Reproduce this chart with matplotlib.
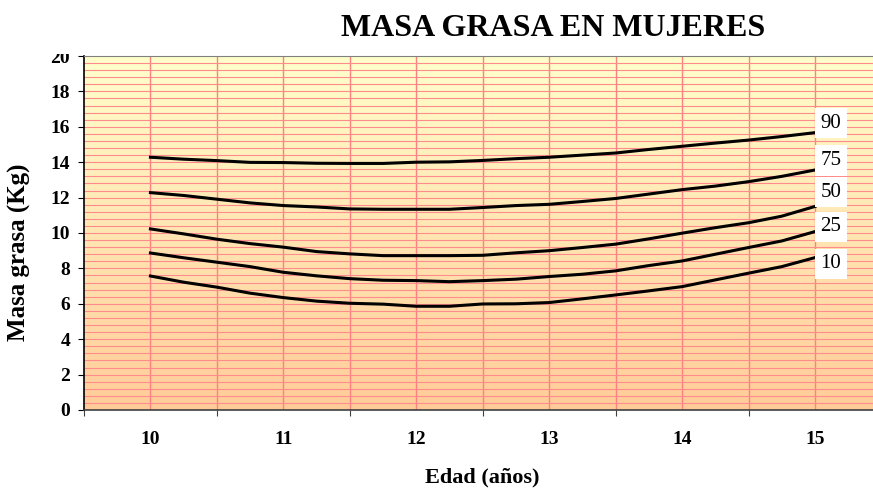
"""
Masa grasa en mujeres de 10 a 15 años: curvas de percentiles.
"""

import matplotlib
matplotlib.use("Agg")
import matplotlib.pyplot as plt
import numpy as np
from matplotlib.colors import LinearSegmentedColormap
from matplotlib.patches import Rectangle
from matplotlib.ticker import MultipleLocator

# Edad (años) y masa grasa (kg) por percentil
edad = [10.0, 10.25, 10.5, 10.75, 11.0, 11.25, 11.5, 11.75, 12.0, 12.25, 12.5,
        12.75, 13.0, 13.25, 13.5, 13.75, 14.0, 14.25, 14.5, 14.75, 15.0]

p90 = [14.28, 14.17, 14.09, 13.99, 13.98, 13.94, 13.93, 13.93, 14.00, 14.02, 14.10,
       14.20, 14.28, 14.40, 14.52, 14.72, 14.90, 15.08, 15.25, 15.45, 15.67]
p75 = [12.28, 12.12, 11.91, 11.70, 11.55, 11.47, 11.36, 11.34, 11.34, 11.34, 11.44,
       11.55, 11.62, 11.78, 11.95, 12.20, 12.45, 12.65, 12.90, 13.20, 13.56]
p50 = [10.23, 9.95, 9.65, 9.40, 9.20, 8.95, 8.82, 8.72, 8.72, 8.72, 8.74,
       8.88, 9.00, 9.18, 9.37, 9.67, 9.99, 10.30, 10.58, 10.95, 11.50]
p25 = [8.87, 8.60, 8.35, 8.10, 7.78, 7.58, 7.42, 7.33, 7.31, 7.25, 7.31,
       7.39, 7.54, 7.67, 7.86, 8.16, 8.42, 8.80, 9.18, 9.55, 10.08]
p10 = [7.57, 7.22, 6.94, 6.60, 6.35, 6.15, 6.03, 5.98, 5.86, 5.86, 5.99,
       6.00, 6.07, 6.28, 6.50, 6.73, 6.97, 7.35, 7.73, 8.10, 8.61]

percentiles = ["90", "75", "50", "25", "10"]
series = [p90, p75, p50, p25, p10]
# altura de cada rótulo de percentil (kg)
label_y = [16.2, 14.1, 12.3, 10.35, 8.25]

x_labels = ["10", "11", "12", "13", "14", "15"]

SERIF = "Liberation Serif"


def main():
    fig = plt.figure(figsize=(8.73, 4.90), dpi=100)
    ax = fig.add_axes([0.0962, 0.1633, 0.9135, 0.7224])

    # fondo degradado amarillo claro -> canela
    cmap = LinearSegmentedColormap.from_list("fondo", ["#FFCC99", "#FFFFCC"])
    grad = np.linspace(0, 1, 256).reshape(-1, 1)
    ax.imshow(grad, cmap=cmap, aspect="auto", origin="lower",
              extent=[9.5, 15.5, 0, 20], zorder=0)

    for vals in series:
        ax.plot(edad, vals, color="black", linewidth=2.2, zorder=3,
                solid_joinstyle="round")

    for name, yv in zip(percentiles, label_y):
        ax.text(15.04, yv, name, fontsize=15, family=SERIF, va="center",
                ha="left", zorder=4,
                bbox=dict(facecolor="white", edgecolor="none", pad=4))

    ax.set_xlim(9.5, 15.5)
    ax.set_ylim(0, 20)

    # marcas entre categorías, rótulos en el centro
    ax.set_xticks(np.arange(9.5, 16.0, 1.0))
    ax.set_xticklabels([])
    ax.set_xticks([10, 11, 12, 13, 14, 15], minor=True)
    ax.set_xticklabels(x_labels, minor=True, fontsize=14,
                       fontweight="bold", family=SERIF)
    ax.tick_params(axis="x", which="major", length=4, direction="out",
                   color="#404040")
    ax.tick_params(axis="x", which="minor", length=0, pad=15)

    ax.set_yticks(np.arange(0, 21, 2))
    ax.set_yticklabels([str(v) for v in range(0, 21, 2)], fontsize=14,
                       fontweight="bold", family=SERIF)
    ax.yaxis.set_minor_locator(MultipleLocator(0.4))
    ax.tick_params(axis="y", which="major", length=4, direction="out", pad=6)
    ax.tick_params(axis="y", which="minor", length=0)

    # cuadrícula
    for xv in np.arange(10.0, 15.6, 0.5):
        ax.axvline(xv, color="#FF8080", linewidth=1.0, zorder=1)
    for yv in np.arange(0.4, 20.0, 0.4):
        ax.axhline(yv, color="#FF8C8C", linewidth=0.8, zorder=1)

    ax.spines["left"].set_color("black")
    ax.spines["bottom"].set_color("#404040")
    ax.spines["top"].set_color("#808080")
    ax.spines["right"].set_visible(False)
    for s in ("left", "bottom"):
        ax.spines[s].set_linewidth(1.2)

    ax.set_xlabel("Edad (años)", fontsize=16, fontweight="bold",
                  family=SERIF, labelpad=14)
    ax.set_ylabel("Masa grasa (Kg)", fontsize=18, fontweight="bold",
                  family=SERIF)
    ax.yaxis.set_label_coords(-0.066, 0.446)

    fig.text(0.634, 0.942, "MASA GRASA EN MUJERES", fontsize=23,
             fontweight="bold", family=SERIF, ha="center", va="center")

    # el margen superior recorta el rótulo "20"
    fig.patches.append(Rectangle((0.04, 1 - 54 / 490), 0.055, 54 / 490 - 0.005,
                                 transform=fig.transFigure, facecolor="white",
                                 edgecolor="none", zorder=10))

    fig.savefig("out.png", dpi=100)
    plt.close(fig)


if __name__ == "__main__":
    main()
